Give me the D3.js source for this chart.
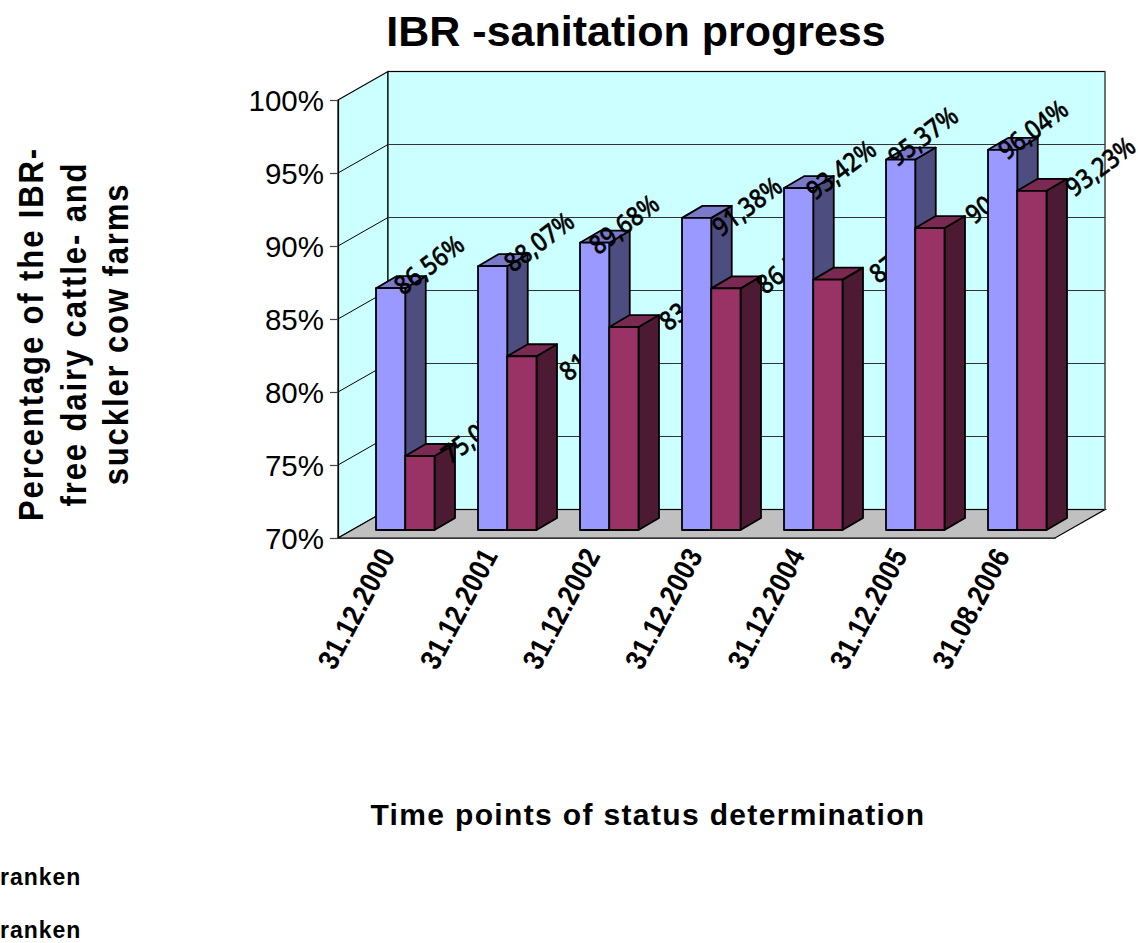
<!DOCTYPE html>
<html>
<head>
<meta charset="utf-8">
<script src="https://d3js.org/d3.v7.min.js"></script>
<style>
body { margin: 0; background: #fff; overflow: hidden; }
svg { display: block; }
text { font-family: "Liberation Sans", Arial, sans-serif; fill: #000; }
</style>
</head>
<body>
<div id="chart"></div>
<script>
// IBR sanitation progress - fake 3D column chart

const dates = ["31.12.2000", "31.12.2001", "31.12.2002", "31.12.2003", "31.12.2004", "31.12.2005", "31.08.2006"];
const seriesNames = ["first", "second"];
const firstValues = [86.56, 88.07, 89.68, 91.38, 93.42, 95.37, 96.04];
const secondValues = [75.07, 81.9, 83.9, 86.55, 87.15, 90.68, 93.23];
const yTicks = [70, 75, 80, 85, 90, 95, 100];
const yTitleLines = ["Percentage of the IBR-", "free dairy cattle- and", "suckler cow farms"];
const legendLabels = ["ranken", "ranken"];

const width = 1138;
const height = 943;

// oblique offset between the front plane and the back wall
const wall = {dx: 50, dy: -28.5};
// oblique offset of one column
const barDepth = {dx: 20.5, dy: -12};

const palette = [
    {front: "#9999ff", side: "#4d4d80", top: "#7a7acc"},
    {front: "#993366", side: "#4d1a33", top: "#7a2952"}
];

const svg = d3.select("#chart")
    .append("svg")
    .attr("width", width)
    .attr("height", height);

const yFront = d3.scaleLinear().domain([70, 100]).range([538, 100]);
const yBar = d3.scaleLinear().domain([70, 100]).range([530, 92]);
const xAxisScale = d3.scaleBand().domain(dates).range([338, 1055]);
const xGroup = d3.scaleBand().domain(dates).range([354, 1068]);
const xSeries = d3.scaleBand().domain(seriesNames).range([22, 80.5]);

const x0 = xAxisScale.range()[0];
const x1 = xAxisScale.range()[1];
const yBottom = yFront(70);
const yTop = yFront(100);
const poly = pts => "M" + pts.map(p => p.join(",")).join("L") + "Z";

// left wall
svg.append("path")
    .attr("d", poly([[x0, yTop], [x0 + wall.dx, yTop + wall.dy], [x0 + wall.dx, yBottom + wall.dy], [x0, yBottom]]))
    .attr("fill", "#ccffff")
    .attr("stroke", "#000")
    .attr("stroke-width", 1.2);

// floor
svg.append("path")
    .attr("d", poly([[x0, yBottom], [x0 + wall.dx, yBottom + wall.dy], [x1 + wall.dx, yBottom + wall.dy], [x1, yBottom]]))
    .attr("fill", "#c0c0c0")
    .attr("stroke", "#000")
    .attr("stroke-width", 1.2);

// back wall
svg.append("rect")
    .attr("x", x0 + wall.dx)
    .attr("y", yTop + wall.dy)
    .attr("width", x1 - x0)
    .attr("height", yBottom - yTop)
    .attr("fill", "#ccffff")
    .attr("stroke", "#000")
    .attr("stroke-width", 1.2);

svg.append("line")
    .attr("x1", x1 + wall.dx)
    .attr("x2", x1 + wall.dx)
    .attr("y1", yTop + wall.dy)
    .attr("y2", yBottom + wall.dy)
    .attr("stroke", "#777")
    .attr("stroke-width", 1.4);

// grid on both walls
const gridTicks = yTicks.slice(1, -1);
svg.selectAll(".grid-back")
    .data(gridTicks)
    .join("line")
    .attr("class", "grid-back")
    .attr("x1", x0 + wall.dx)
    .attr("x2", x1 + wall.dx)
    .attr("y1", d => yFront(d) + wall.dy)
    .attr("y2", d => yFront(d) + wall.dy)
    .attr("stroke", "#333")
    .attr("stroke-width", 1.2);

svg.selectAll(".grid-left")
    .data(gridTicks)
    .join("line")
    .attr("class", "grid-left")
    .attr("x1", x0)
    .attr("x2", x0 + wall.dx)
    .attr("y1", d => yFront(d))
    .attr("y2", d => yFront(d) + wall.dy)
    .attr("stroke", "#000")
    .attr("stroke-width", 1);

// y axis
const yAxis = d3.axisLeft(yFront)
    .tickValues(yTicks)
    .tickFormat(d => d + "%")
    .tickSize(8)
    .tickPadding(6);

const yAxisG = svg.append("g")
    .attr("transform", `translate(${x0}, 0)`)
    .call(yAxis);
yAxisG.selectAll("text").style("font-size", "29.5px").attr("dy", "0.36em");
yAxisG.selectAll("line").attr("stroke", "#444").attr("stroke-width", 1.2);
yAxisG.select(".domain").attr("stroke", "#000").attr("stroke-width", 1.2);

// x axis
const xAxis = d3.axisBottom(xAxisScale).tickSize(0).tickPadding(0);
const xAxisG = svg.append("g")
    .attr("transform", `translate(0, ${yBottom})`)
    .call(xAxis);
xAxisG.select(".domain").attr("stroke", "#333").attr("stroke-width", 1.2);
xAxisG.selectAll("text")
    .style("font-size", "25.5px")
    .style("font-weight", "bold")
    .style("letter-spacing", "0.4px")
    .attr("text-anchor", "end")
    .attr("dy", 0)
    .attr("transform", "translate(7, 17) rotate(-62) scale(1, 1.15)");

// columns group by group, so later columns cover the labels before them
const labelFormat = v => d3.format(".2f")(v).replace(".", ",") + "%";
const labelOffset = [{x: 24, y: 9}, {x: 56, y: 7}];
// the labels do not sit at one constant distance from their column
const labelNudge = [
    [{x: 3, y: -1}, {x: 11, y: -2}, {x: -6, y: 4}, {x: 15, y: 11}, {x: 7, y: 4}, {x: -13, y: -1}, {x: -5, y: 2}],
    [{x: -11, y: 2}, {x: 5, y: 19}, {x: 3, y: -2}, {x: -2, y: 0}, {x: 9, y: -2}, {x: 3, y: -10}, {x: 1, y: 0}]
];

const groups = svg.selectAll(".group")
    .data(dates.map((d, i) => ({date: d, index: i, values: [firstValues[i], secondValues[i]]})))
    .join("g")
    .attr("class", "group")
    .attr("transform", d => `translate(${xGroup(d.date)}, 0)`);

groups.each(function(d) {
    const g = d3.select(this);
    const w = xSeries.bandwidth();
    d.values.forEach((v, i) => {
        const x = xSeries(seriesNames[i]);
        const t = yBar(v);
        const b = yBar(70);
        const c = palette[i];
        const bar = g.append("g").attr("stroke", "#000").attr("stroke-width", 1.8).attr("stroke-linejoin", "round");
        bar.append("path")
            .attr("d", poly([[x + w, t], [x + w + barDepth.dx, t + barDepth.dy], [x + w + barDepth.dx, b + barDepth.dy], [x + w, b]]))
            .attr("fill", c.side);
        bar.append("path")
            .attr("d", poly([[x, t], [x + barDepth.dx, t + barDepth.dy], [x + w + barDepth.dx, t + barDepth.dy], [x + w, t]]))
            .attr("fill", c.top);
        bar.append("rect")
            .attr("x", x)
            .attr("y", t)
            .attr("width", w)
            .attr("height", b - t)
            .attr("fill", c.front);
    });
    d.values.forEach((v, i) => {
        const nudge = labelNudge[i][d.index];
        const x = xSeries(seriesNames[i]) + labelOffset[i].x + nudge.x;
        const y = yBar(v) + labelOffset[i].y + nudge.y;
        g.append("text")
            .attr("transform", `translate(${x}, ${y}) rotate(-37) scale(0.97, 1.1)`)
            .style("font-family", "'Noto Sans'")
            .style("font-size", "24px")
            .style("font-weight", "500")
            .style("stroke", "#000")
            .style("stroke-width", 0.4)
            .text(labelFormat(v));
    });
});

// titles
svg.append("text")
    .attr("x", 636)
    .attr("y", 46)
    .attr("text-anchor", "middle")
    .style("font-size", "43px")
    .style("font-weight", "bold")
    .text("IBR -sanitation progress");

svg.append("text")
    .attr("x", 648)
    .attr("y", 825)
    .attr("text-anchor", "middle")
    .style("font-size", "30px")
    .style("font-weight", "bold")
    .style("letter-spacing", "1.35px")
    .text("Time points of status determination");

svg.selectAll(".y-title")
    .data(yTitleLines)
    .join("text")
    .attr("class", "y-title")
    .attr("text-anchor", "middle")
    .attr("transform", (d, i) => `translate(${43 + i * 42.5}, 334) rotate(-90) scale(1, 1.15)`)
    .style("font-size", "31px")
    .style("font-weight", "bold")
    .style("letter-spacing", "1.9px")
    .text(d => d);

// legend, runs up to the left edge of the page
svg.selectAll(".legend")
    .data(legendLabels)
    .join("text")
    .attr("class", "legend")
    .attr("x", 0)
    .attr("y", (d, i) => 885 + i * 53)
    .style("font-size", "23px")
    .style("font-weight", "bold")
    .style("letter-spacing", "1px")
    .text(d => d);
</script>
</body>
</html>
